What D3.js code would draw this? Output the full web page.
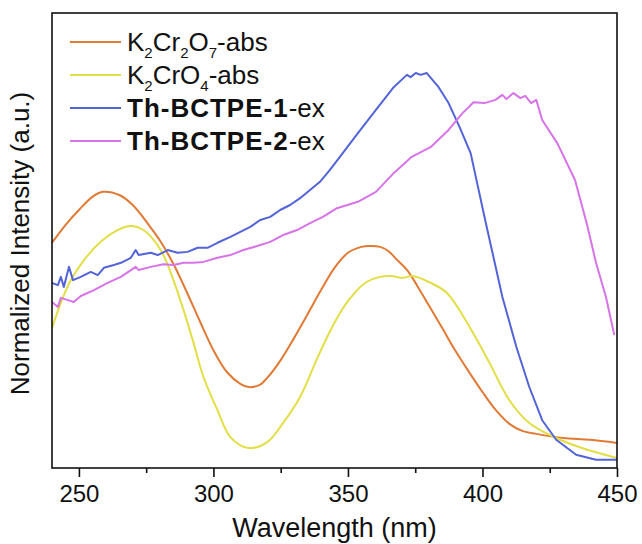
<!DOCTYPE html>
<html>
<head>
<meta charset="utf-8">
<script src="https://cdn.jsdelivr.net/npm/d3@7"></script>
<style>
  body { margin: 0; background: #fff; }
  text { font-family: "Liberation Sans", Arial, sans-serif; fill: #111; }
</style>
</head>
<body>
<script>
// wavelengths (nm) and normalized intensity
var k2cr2o7Wl  = [240, 245, 250, 255, 259, 265, 270, 276, 280, 285, 290, 295, 300, 305, 310, 313, 317, 320, 325, 330, 335, 340, 345, 350, 355, 358, 362, 365, 368, 372, 376, 380, 385, 390, 395, 400, 405, 410, 415, 420, 430, 440, 450];
var k2cr2o7Abs = [0.495, 0.534, 0.567, 0.596, 0.607, 0.600, 0.578, 0.534, 0.501, 0.450, 0.388, 0.322, 0.259, 0.211, 0.185, 0.178, 0.182, 0.198, 0.237, 0.286, 0.338, 0.391, 0.440, 0.473, 0.486, 0.488, 0.486, 0.477, 0.459, 0.435, 0.398, 0.358, 0.308, 0.257, 0.211, 0.167, 0.127, 0.097, 0.081, 0.075, 0.066, 0.062, 0.055];

var k2cro4Wl  = [240, 243.3, 247, 251.9, 258.1, 264.4, 269.3, 274, 280.4, 285.2, 288.9, 292.6, 296.3, 301.5, 306.3, 313, 320, 325.9, 332.2, 338.5, 343.3, 347, 350.7, 356, 361.9, 366, 370.4, 374, 380, 386.7, 395.2, 402.6, 410, 417.4, 427.4, 437, 450];
var k2cro4Abs = [0.308, 0.363, 0.413, 0.457, 0.497, 0.523, 0.532, 0.523, 0.479, 0.412, 0.347, 0.275, 0.200, 0.127, 0.068, 0.044, 0.057, 0.099, 0.156, 0.240, 0.300, 0.340, 0.372, 0.405, 0.420, 0.422, 0.418, 0.422, 0.409, 0.385, 0.310, 0.231, 0.149, 0.099, 0.066, 0.044, 0.022];

var bctpe1Wl = [240, 242.2, 243.3, 244.4, 246.3, 247.8, 250.7, 254.4, 257, 259.3, 263, 265.6, 269.3, 271.1, 272.2, 276.7, 279.3, 283, 286.7, 290.4, 294.1, 297.8, 301.5, 306.3, 310, 313.7, 317.4, 321.1, 324.8, 328.5, 332.2, 335.9, 339.6, 343.3, 347, 353.7, 360.4, 367, 371.9, 373.3, 375.2, 377, 379.3, 383.7, 387.4, 391.5, 395.6, 401, 407.4, 412.6, 417.4, 422.2, 427.4, 434.8, 442.2, 450];
var bctpe1Ex = [0.407, 0.402, 0.420, 0.398, 0.442, 0.413, 0.420, 0.431, 0.424, 0.440, 0.446, 0.451, 0.462, 0.479, 0.468, 0.473, 0.468, 0.479, 0.473, 0.475, 0.484, 0.484, 0.495, 0.508, 0.519, 0.530, 0.545, 0.552, 0.567, 0.578, 0.593, 0.611, 0.629, 0.655, 0.684, 0.736, 0.787, 0.837, 0.864, 0.859, 0.868, 0.864, 0.868, 0.837, 0.802, 0.749, 0.692, 0.545, 0.376, 0.266, 0.178, 0.105, 0.062, 0.029, 0.018, 0.018];

var bctpe2Wl = [240, 242.2, 243.3, 245.9, 248.1, 250.7, 255.6, 260.7, 265.6, 271.1, 272.2, 276.7, 281.5, 285.2, 288.9, 292.6, 296.3, 301.5, 306.3, 311.1, 316.3, 321.1, 325.9, 331.1, 335.9, 340.7, 345.9, 353.7, 360.4, 367, 373.7, 380.7, 387.4, 392.6, 396.7, 400.7, 404.8, 407.4, 408.9, 411.5, 414.1, 415.9, 418.1, 420, 422.2, 427.8, 434.4, 438.9, 442.2, 445.9, 449];
var bctpe2Ex = [0.365, 0.354, 0.374, 0.369, 0.365, 0.378, 0.391, 0.407, 0.420, 0.442, 0.435, 0.442, 0.448, 0.446, 0.451, 0.451, 0.453, 0.462, 0.468, 0.479, 0.488, 0.497, 0.512, 0.523, 0.538, 0.552, 0.571, 0.585, 0.607, 0.648, 0.684, 0.705, 0.743, 0.780, 0.804, 0.802, 0.809, 0.820, 0.811, 0.824, 0.813, 0.818, 0.802, 0.809, 0.765, 0.714, 0.633, 0.534, 0.451, 0.376, 0.292];

var xTicks = [250, 300, 350, 400, 450];
var xMinorTicks = [275, 325, 375, 425];

var width = 642, height = 544;
var margin = { top: 13, right: 25, bottom: 76, left: 52 };

var svg = d3.select("body").append("svg")
    .attr("width", width)
    .attr("height", height);

var x = d3.scaleLinear().domain([240, 450]).range([margin.left, width - margin.right]);
var y = d3.scaleLinear().domain([0, 1]).range([height - margin.bottom, margin.top]);

function zip(wl, v) {
  return wl.map(function(w, i) { return [w, v[i]]; });
}

var series = [
  { name: "k2cr2o7", data: zip(k2cr2o7Wl, k2cr2o7Abs), color: "#e07a35", smooth: true },
  { name: "k2cro4",  data: zip(k2cro4Wl, k2cro4Abs),   color: "#e2de45", smooth: true },
  { name: "bctpe1",  data: zip(bctpe1Wl, bctpe1Ex),    color: "#5264d8", smooth: false },
  { name: "bctpe2",  data: zip(bctpe2Wl, bctpe2Ex),    color: "#d674e8", smooth: false }
];

svg.append("defs").append("clipPath").attr("id", "clip")
  .append("rect")
    .attr("x", margin.left).attr("y", margin.top)
    .attr("width", x.range()[1] - x.range()[0])
    .attr("height", y.range()[0] - y.range()[1]);

var plot = svg.append("g").attr("clip-path", "url(#clip)");

series.forEach(function(s) {
  var line = d3.line()
      .x(function(d) { return x(d[0]); })
      .y(function(d) { return y(d[1]); })
      .curve(s.smooth ? d3.curveCatmullRom : d3.curveLinear);
  plot.append("path")
      .datum(s.data)
      .attr("fill", "none")
      .attr("stroke", s.color)
      .attr("stroke-width", 2)
      .attr("stroke-linejoin", "round")
      .attr("d", line);
});

// frame
svg.append("rect")
    .attr("x", margin.left).attr("y", margin.top)
    .attr("width", x.range()[1] - x.range()[0])
    .attr("height", y.range()[0] - y.range()[1])
    .attr("fill", "none")
    .attr("stroke", "#111")
    .attr("stroke-width", 1.6);

// x axis
var xAxis = svg.append("g")
    .attr("transform", "translate(0," + y.range()[0] + ")")
    .call(d3.axisBottom(x).tickValues(xTicks).tickSize(9).tickPadding(8).tickFormat(d3.format("d")));
xAxis.select(".domain").remove();
xAxis.selectAll("line").attr("stroke", "#111").attr("stroke-width", 1.6);
xAxis.selectAll("text").style("font-size", "24px").attr("fill", "#111");

var xMinor = svg.append("g")
    .attr("transform", "translate(0," + y.range()[0] + ")")
    .call(d3.axisBottom(x).tickValues(xMinorTicks).tickSize(5).tickFormat(""));
xMinor.select(".domain").remove();
xMinor.selectAll("line").attr("stroke", "#111").attr("stroke-width", 1.6);

svg.append("text")
    .attr("x", (x.range()[0] + x.range()[1]) / 2)
    .attr("y", 537)
    .attr("text-anchor", "middle")
    .style("font-size", "27px")
    .text("Wavelength (nm)");

svg.append("text")
    .attr("transform", "translate(29," + ((y.range()[0] + y.range()[1]) / 2 + 3) + ") rotate(-90)")
    .attr("text-anchor", "middle")
    .style("font-size", "26px")
    .text("Normalized Intensity (a.u.)");

// legend
var legend = svg.append("g");
var rowY = [42, 75, 108, 141];
series.forEach(function(s, i) {
  legend.append("line")
      .attr("x1", 70).attr("x2", 121)
      .attr("y1", rowY[i]).attr("y2", rowY[i])
      .attr("stroke", s.color)
      .attr("stroke-width", 2);
});

function legendText(i) {
  return legend.append("text")
      .attr("x", 127)
      .attr("y", rowY[i] + 9)
      .style("font-size", "26px");
}

function sub(t, s) {
  t.append("tspan").attr("dy", 7).style("font-size", "15px").text(s);
}
function back(t, s) {
  t.append("tspan").attr("dy", -7).text(s);
}

var t0 = legendText(0);
t0.append("tspan").text("K");
sub(t0, "2"); back(t0, "Cr");
sub(t0, "2"); back(t0, "O");
sub(t0, "7"); back(t0, "-abs");

var t1 = legendText(1);
t1.append("tspan").text("K");
sub(t1, "2"); back(t1, "CrO");
sub(t1, "4"); back(t1, "-abs");

var t2 = legendText(2);
t2.append("tspan").style("font-weight", "bold").style("letter-spacing", "1px").text("Th-BCTPE-1");
t2.append("tspan").text("-ex");

var t3 = legendText(3);
t3.append("tspan").style("font-weight", "bold").style("letter-spacing", "1px").text("Th-BCTPE-2");
t3.append("tspan").text("-ex");
</script>
</body>
</html>
